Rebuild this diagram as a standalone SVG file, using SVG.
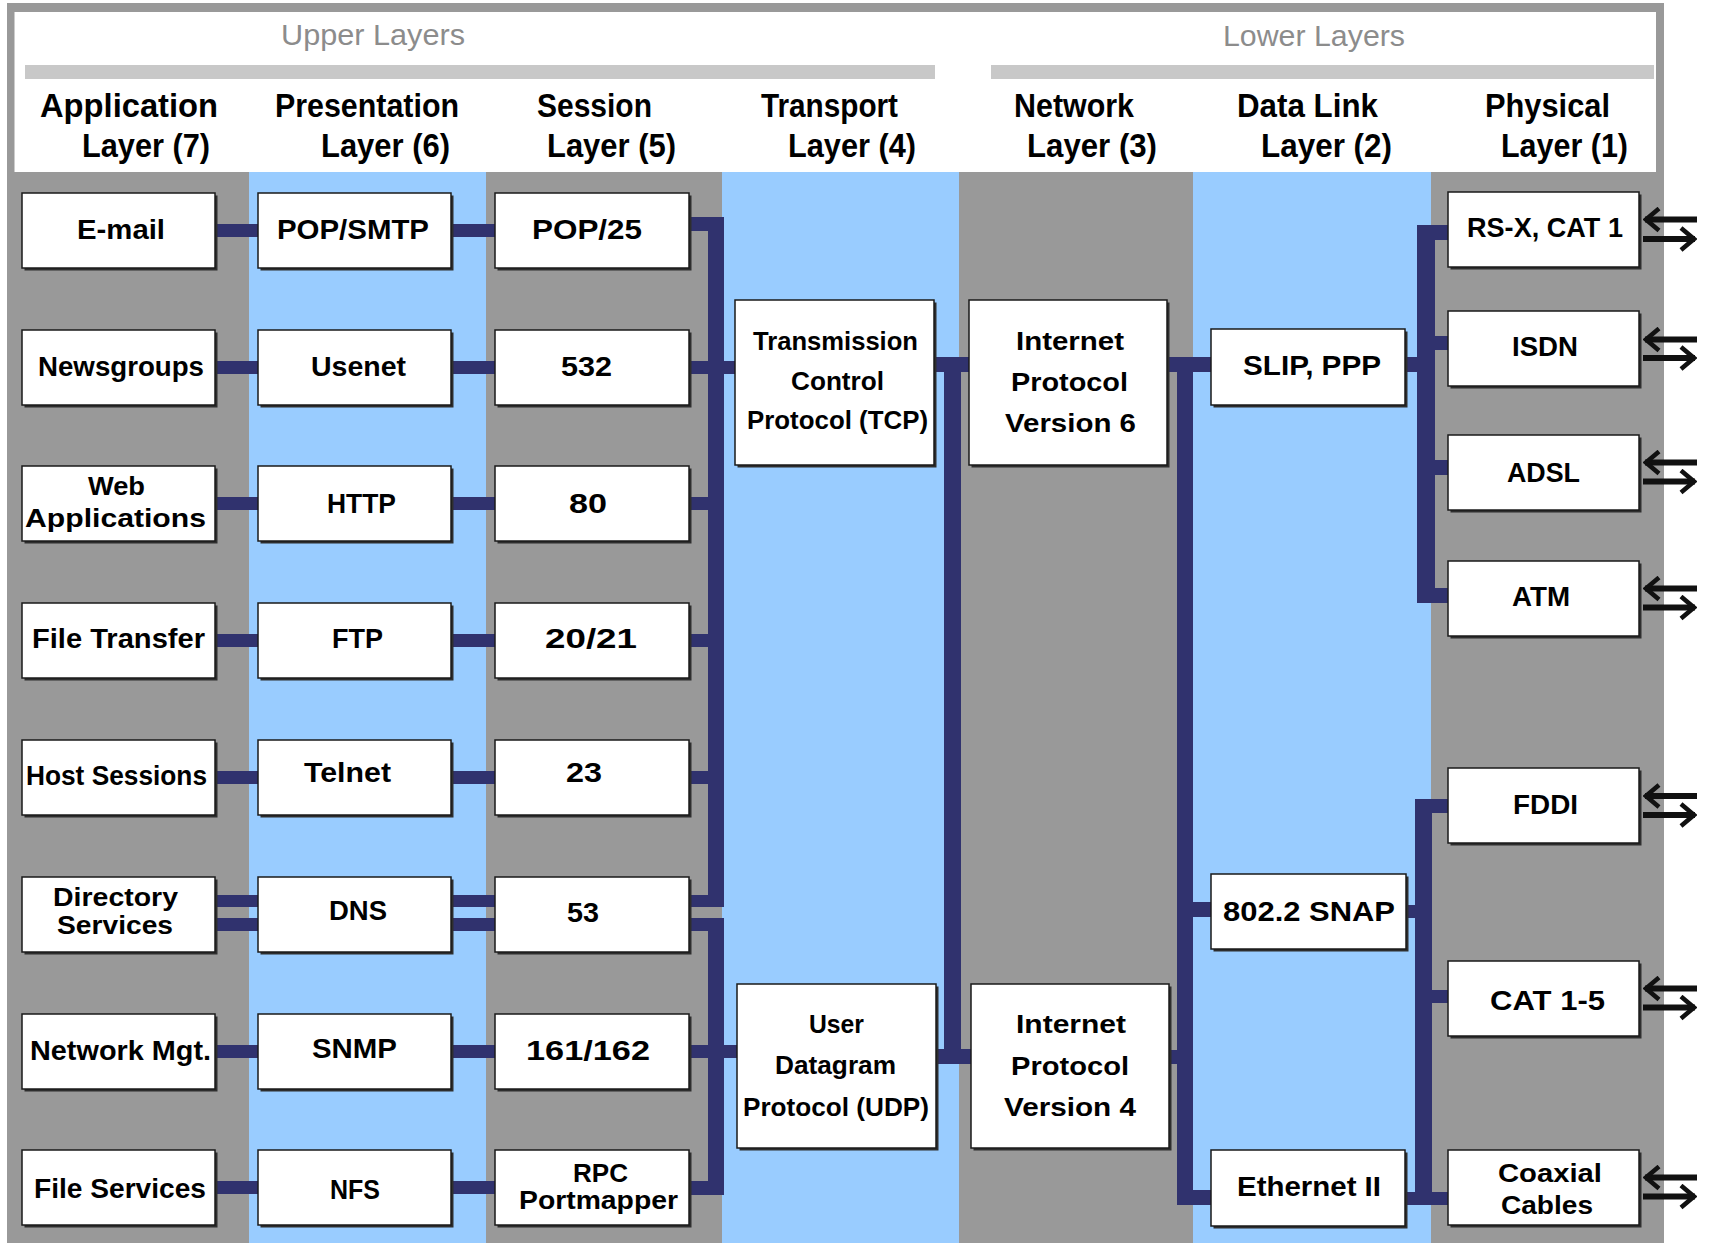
<svg xmlns="http://www.w3.org/2000/svg" width="1709" height="1243" viewBox="0 0 1709 1243">
<style>
.bx{fill:#fff;stroke:#1a1a1a;stroke-width:1.5}
.sh{fill:#2e2e2e}
.t{font-family:"Liberation Sans",Arial,sans-serif;font-weight:bold;fill:#000}
.s28{font-size:28px}
.s26{font-size:26px}
.s39{font-size:34px}
.lt{font-family:"Liberation Sans",Arial,sans-serif;font-size:30px;fill:#8c8c8c}
.c{fill:#30326e}
.ar{stroke:#111;stroke-width:6;fill:none;marker-end:url(#ah)}
</style>
<defs>
<marker id="ah" viewBox="0 0 20 26" markerWidth="20" markerHeight="26" refX="18" refY="13" orient="auto" markerUnits="userSpaceOnUse">
<path d="M4,2 L17,13 L4,24" fill="none" stroke="#111" stroke-width="4.5"/>
</marker>
</defs>
<rect width="1709" height="1243" fill="#fff"/>
<g id="background">
<rect x="7" y="3" width="1657" height="1240" fill="#999"/>
<rect x="14.5" y="12" width="1641.5" height="160" fill="#fff"/>
<rect x="249" y="172" width="237" height="1071" fill="#99ccff"/>
<rect x="722" y="172" width="237" height="1071" fill="#99ccff"/>
<rect x="1193" y="172" width="238" height="1071" fill="#99ccff"/>
<rect x="25" y="65" width="910" height="14" fill="#c8c8c8"/>
<rect x="991" y="65" width="663" height="14" fill="#c8c8c8"/>
</g>
<g id="headers">
<text class="lt" x="281" y="45" textLength="184" lengthAdjust="spacingAndGlyphs">Upper Layers</text>
<text class="lt" x="1223" y="46" textLength="182" lengthAdjust="spacingAndGlyphs">Lower Layers</text>
<text class="t s39"><tspan x="40" y="117" textLength="178" lengthAdjust="spacingAndGlyphs">Application</tspan><tspan x="82" y="157" textLength="128" lengthAdjust="spacingAndGlyphs">Layer (7)</tspan></text>
<text class="t s39"><tspan x="275" y="117" textLength="184" lengthAdjust="spacingAndGlyphs">Presentation</tspan><tspan x="321" y="157" textLength="129" lengthAdjust="spacingAndGlyphs">Layer (6)</tspan></text>
<text class="t s39"><tspan x="537" y="117" textLength="115" lengthAdjust="spacingAndGlyphs">Session</tspan><tspan x="547" y="157" textLength="129" lengthAdjust="spacingAndGlyphs">Layer (5)</tspan></text>
<text class="t s39"><tspan x="761" y="117" textLength="137" lengthAdjust="spacingAndGlyphs">Transport</tspan><tspan x="788" y="157" textLength="128" lengthAdjust="spacingAndGlyphs">Layer (4)</tspan></text>
<text class="t s39"><tspan x="1014" y="117" textLength="120" lengthAdjust="spacingAndGlyphs">Network</tspan><tspan x="1027" y="157" textLength="130" lengthAdjust="spacingAndGlyphs">Layer (3)</tspan></text>
<text class="t s39"><tspan x="1237" y="117" textLength="141" lengthAdjust="spacingAndGlyphs">Data Link</tspan><tspan x="1261" y="157" textLength="131" lengthAdjust="spacingAndGlyphs">Layer (2)</tspan></text>
<text class="t s39"><tspan x="1485" y="117" textLength="125" lengthAdjust="spacingAndGlyphs">Physical</tspan><tspan x="1501" y="157" textLength="127" lengthAdjust="spacingAndGlyphs">Layer (1)</tspan></text>
</g>
<g id="connectors">
<rect class="c" x="214" y="224" width="45" height="13"/>
<rect class="c" x="214" y="361" width="45" height="13"/>
<rect class="c" x="214" y="497" width="45" height="13"/>
<rect class="c" x="214" y="634" width="45" height="13"/>
<rect class="c" x="214" y="771" width="45" height="13"/>
<rect class="c" x="214" y="895" width="45" height="12"/>
<rect class="c" x="214" y="918" width="45" height="13"/>
<rect class="c" x="214" y="1045" width="45" height="13"/>
<rect class="c" x="214" y="1181" width="45" height="13"/>
<rect class="c" x="450" y="224" width="46" height="13"/>
<rect class="c" x="450" y="361" width="46" height="13"/>
<rect class="c" x="450" y="497" width="46" height="13"/>
<rect class="c" x="450" y="634" width="46" height="13"/>
<rect class="c" x="450" y="771" width="46" height="13"/>
<rect class="c" x="450" y="895" width="46" height="12"/>
<rect class="c" x="450" y="918" width="46" height="13"/>
<rect class="c" x="450" y="1045" width="46" height="13"/>
<rect class="c" x="450" y="1181" width="46" height="13"/>
<rect class="c" x="688" y="217" width="36" height="14"/>
<rect class="c" x="688" y="361" width="48" height="13"/>
<rect class="c" x="688" y="497" width="36" height="13"/>
<rect class="c" x="688" y="634" width="36" height="13"/>
<rect class="c" x="688" y="771" width="36" height="13"/>
<rect class="c" x="688" y="895" width="36" height="12"/>
<rect class="c" x="708" y="217" width="16" height="690"/>
<rect class="c" x="688" y="918" width="36" height="13"/>
<rect class="c" x="688" y="1045" width="50" height="13"/>
<rect class="c" x="688" y="1181" width="36" height="14"/>
<rect class="c" x="708" y="918" width="16" height="277"/>
<rect class="c" x="933" y="357" width="37" height="15"/>
<rect class="c" x="935" y="1049" width="37" height="15"/>
<rect class="c" x="944" y="357" width="17" height="707"/>
<rect class="c" x="1166" y="357" width="46" height="15"/>
<rect class="c" x="1168" y="1050" width="12" height="14"/>
<rect class="c" x="1192" y="902" width="20" height="15"/>
<rect class="c" x="1192" y="1190" width="20" height="15"/>
<rect class="c" x="1177" y="357" width="16" height="848"/>
<rect class="c" x="1404" y="357" width="15" height="15"/>
<rect class="c" x="1417" y="225" width="18" height="378"/>
<rect class="c" x="1434" y="225" width="15" height="15"/>
<rect class="c" x="1434" y="336" width="15" height="14"/>
<rect class="c" x="1434" y="460" width="15" height="15"/>
<rect class="c" x="1434" y="588" width="15" height="15"/>
<rect class="c" x="1405" y="905" width="11" height="13"/>
<rect class="c" x="1404" y="1192" width="45" height="13"/>
<rect class="c" x="1415" y="799" width="17" height="406"/>
<rect class="c" x="1431" y="799" width="18" height="14"/>
<rect class="c" x="1431" y="990" width="18" height="13"/>
<path class="ar" d="M1697,219.5 H1645"/><path class="ar" d="M1643,239 H1695"/>
<path class="ar" d="M1697,339.5 H1645"/><path class="ar" d="M1643,358 H1695"/>
<path class="ar" d="M1697,462.5 H1645"/><path class="ar" d="M1643,481.5 H1695"/>
<path class="ar" d="M1697,588.5 H1645"/><path class="ar" d="M1643,607.5 H1695"/>
<path class="ar" d="M1697,796 H1645"/><path class="ar" d="M1643,815 H1695"/>
<path class="ar" d="M1697,988.5 H1645"/><path class="ar" d="M1643,1007.5 H1695"/>
<path class="ar" d="M1697,1177.5 H1645"/><path class="ar" d="M1643,1196.5 H1695"/>
</g>
<g id="email"><rect class="sh" x="24.5" y="195.5" width="193" height="75"/><rect class="bx" x="22" y="193" width="193" height="75"/><text class="t s28" x="77" y="239" textLength="88" lengthAdjust="spacingAndGlyphs">E-mail</text></g>
<g id="newsgroups"><rect class="sh" x="24.5" y="332.5" width="193" height="75"/><rect class="bx" x="22" y="330" width="193" height="75"/><text class="t s28" x="38" y="376" textLength="166" lengthAdjust="spacingAndGlyphs">Newsgroups</text></g>
<g id="webapps"><rect class="sh" x="24.5" y="468.5" width="193" height="75"/><rect class="bx" x="22" y="466" width="193" height="75"/><text class="t s26"><tspan x="88" y="495" textLength="57" lengthAdjust="spacingAndGlyphs">Web</tspan><tspan x="25" y="527" textLength="181" lengthAdjust="spacingAndGlyphs">Applications</tspan></text></g>
<g id="filetransfer"><rect class="sh" x="24.5" y="605.5" width="193" height="75"/><rect class="bx" x="22" y="603" width="193" height="75"/><text class="t s28" x="32" y="648" textLength="173" lengthAdjust="spacingAndGlyphs">File Transfer</text></g>
<g id="hostsessions"><rect class="sh" x="24.5" y="742.5" width="193" height="75"/><rect class="bx" x="22" y="740" width="193" height="75"/><text class="t s28" x="26" y="785" textLength="181" lengthAdjust="spacingAndGlyphs">Host Sessions</text></g>
<g id="directory"><rect class="sh" x="24.5" y="879.5" width="193" height="75"/><rect class="bx" x="22" y="877" width="193" height="75"/><text class="t s26"><tspan x="53" y="906" textLength="125" lengthAdjust="spacingAndGlyphs">Directory</tspan><tspan x="57" y="934" textLength="116" lengthAdjust="spacingAndGlyphs">Services</tspan></text></g>
<g id="netmgt"><rect class="sh" x="24.5" y="1016.5" width="193" height="75"/><rect class="bx" x="22" y="1014" width="193" height="75"/><text class="t s28" x="30" y="1060" textLength="181" lengthAdjust="spacingAndGlyphs">Network Mgt.</text></g>
<g id="fileservices"><rect class="sh" x="24.5" y="1152.5" width="193" height="75"/><rect class="bx" x="22" y="1150" width="193" height="75"/><text class="t s28" x="34" y="1198" textLength="172" lengthAdjust="spacingAndGlyphs">File Services</text></g>
<g id="popsmtp"><rect class="sh" x="260.5" y="195.5" width="193" height="75"/><rect class="bx" x="258" y="193" width="193" height="75"/><text class="t s28" x="277" y="239" textLength="152" lengthAdjust="spacingAndGlyphs">POP/SMTP</text></g>
<g id="usenet"><rect class="sh" x="260.5" y="332.5" width="193" height="75"/><rect class="bx" x="258" y="330" width="193" height="75"/><text class="t s28" x="311" y="376" textLength="95" lengthAdjust="spacingAndGlyphs">Usenet</text></g>
<g id="http"><rect class="sh" x="260.5" y="468.5" width="193" height="75"/><rect class="bx" x="258" y="466" width="193" height="75"/><text class="t s28" x="327" y="513" textLength="69" lengthAdjust="spacingAndGlyphs">HTTP</text></g>
<g id="ftp"><rect class="sh" x="260.5" y="605.5" width="193" height="75"/><rect class="bx" x="258" y="603" width="193" height="75"/><text class="t s28" x="332" y="648" textLength="51" lengthAdjust="spacingAndGlyphs">FTP</text></g>
<g id="telnet"><rect class="sh" x="260.5" y="742.5" width="193" height="75"/><rect class="bx" x="258" y="740" width="193" height="75"/><text class="t s28" x="304" y="782" textLength="87" lengthAdjust="spacingAndGlyphs">Telnet</text></g>
<g id="dns"><rect class="sh" x="260.5" y="879.5" width="193" height="75"/><rect class="bx" x="258" y="877" width="193" height="75"/><text class="t s28" x="329" y="920" textLength="58" lengthAdjust="spacingAndGlyphs">DNS</text></g>
<g id="snmp"><rect class="sh" x="260.5" y="1016.5" width="193" height="75"/><rect class="bx" x="258" y="1014" width="193" height="75"/><text class="t s28" x="312" y="1058" textLength="85" lengthAdjust="spacingAndGlyphs">SNMP</text></g>
<g id="nfs"><rect class="sh" x="260.5" y="1152.5" width="193" height="75"/><rect class="bx" x="258" y="1150" width="193" height="75"/><text class="t s28" x="330" y="1199" textLength="50" lengthAdjust="spacingAndGlyphs">NFS</text></g>
<g id="pop25"><rect class="sh" x="497.5" y="195.5" width="194" height="75"/><rect class="bx" x="495" y="193" width="194" height="75"/><text class="t s28" x="532" y="239" textLength="110" lengthAdjust="spacingAndGlyphs">POP/25</text></g>
<g id="p532"><rect class="sh" x="497.5" y="332.5" width="194" height="75"/><rect class="bx" x="495" y="330" width="194" height="75"/><text class="t s28" x="561" y="376" textLength="51" lengthAdjust="spacingAndGlyphs">532</text></g>
<g id="p80"><rect class="sh" x="497.5" y="468.5" width="194" height="75"/><rect class="bx" x="495" y="466" width="194" height="75"/><text class="t s28" x="569" y="513" textLength="38" lengthAdjust="spacingAndGlyphs">80</text></g>
<g id="p2021"><rect class="sh" x="497.5" y="605.5" width="194" height="75"/><rect class="bx" x="495" y="603" width="194" height="75"/><text class="t s28" x="545" y="648" textLength="92" lengthAdjust="spacingAndGlyphs">20/21</text></g>
<g id="p23"><rect class="sh" x="497.5" y="742.5" width="194" height="75"/><rect class="bx" x="495" y="740" width="194" height="75"/><text class="t s28" x="566" y="782" textLength="36" lengthAdjust="spacingAndGlyphs">23</text></g>
<g id="p53"><rect class="sh" x="497.5" y="879.5" width="194" height="75"/><rect class="bx" x="495" y="877" width="194" height="75"/><text class="t s28" x="567" y="922" textLength="32" lengthAdjust="spacingAndGlyphs">53</text></g>
<g id="p161"><rect class="sh" x="497.5" y="1016.5" width="194" height="75"/><rect class="bx" x="495" y="1014" width="194" height="75"/><text class="t s28" x="526" y="1060" textLength="124" lengthAdjust="spacingAndGlyphs">161/162</text></g>
<g id="rpc"><rect class="sh" x="497.5" y="1152.5" width="194" height="75"/><rect class="bx" x="495" y="1150" width="194" height="75"/><text class="t s26"><tspan x="573" y="1182" textLength="55" lengthAdjust="spacingAndGlyphs">RPC</tspan><tspan x="519" y="1209" textLength="159" lengthAdjust="spacingAndGlyphs">Portmapper</tspan></text></g>
<g id="tcp"><rect class="sh" x="737.5" y="302.5" width="199" height="165"/><rect class="bx" x="735" y="300" width="199" height="165"/><text class="t s26"><tspan x="753" y="350" textLength="165" lengthAdjust="spacingAndGlyphs">Transmission</tspan><tspan x="791" y="390" textLength="93" lengthAdjust="spacingAndGlyphs">Control</tspan><tspan x="747" y="429" textLength="181" lengthAdjust="spacingAndGlyphs">Protocol (TCP)</tspan></text></g>
<g id="udp"><rect class="sh" x="739.5" y="986.5" width="199" height="164"/><rect class="bx" x="737" y="984" width="199" height="164"/><text class="t s26"><tspan x="809" y="1033" textLength="55" lengthAdjust="spacingAndGlyphs">User</tspan><tspan x="775" y="1074" textLength="121" lengthAdjust="spacingAndGlyphs">Datagram</tspan><tspan x="743" y="1116" textLength="186" lengthAdjust="spacingAndGlyphs">Protocol (UDP)</tspan></text></g>
<g id="ipv6"><rect class="sh" x="971.5" y="302.5" width="198" height="165"/><rect class="bx" x="969" y="300" width="198" height="165"/><text class="t s26"><tspan x="1016" y="350" textLength="108" lengthAdjust="spacingAndGlyphs">Internet</tspan><tspan x="1011" y="391" textLength="117" lengthAdjust="spacingAndGlyphs">Protocol</tspan><tspan x="1005" y="432" textLength="131" lengthAdjust="spacingAndGlyphs">Version 6</tspan></text></g>
<g id="ipv4"><rect class="sh" x="973.5" y="986.5" width="198" height="164"/><rect class="bx" x="971" y="984" width="198" height="164"/><text class="t s26"><tspan x="1016" y="1033" textLength="110" lengthAdjust="spacingAndGlyphs">Internet</tspan><tspan x="1011" y="1075" textLength="118" lengthAdjust="spacingAndGlyphs">Protocol</tspan><tspan x="1004" y="1116" textLength="132" lengthAdjust="spacingAndGlyphs">Version 4</tspan></text></g>
<g id="slip"><rect class="sh" x="1213.5" y="331.5" width="194" height="76"/><rect class="bx" x="1211" y="329" width="194" height="76"/><text class="t s28" x="1243" y="375" textLength="138" lengthAdjust="spacingAndGlyphs">SLIP, PPP</text></g>
<g id="snap"><rect class="sh" x="1213.5" y="876.5" width="195" height="75"/><rect class="bx" x="1211" y="874" width="195" height="75"/><text class="t s28" x="1223" y="921" textLength="172" lengthAdjust="spacingAndGlyphs">802.2 SNAP</text></g>
<g id="ethernet"><rect class="sh" x="1213.5" y="1152.5" width="194" height="76"/><rect class="bx" x="1211" y="1150" width="194" height="76"/><text class="t s28" x="1237" y="1196" textLength="144" lengthAdjust="spacingAndGlyphs">Ethernet II</text></g>
<g id="rsx"><rect class="sh" x="1450.5" y="194.5" width="191" height="75"/><rect class="bx" x="1448" y="192" width="191" height="75"/><text class="t s28" x="1467" y="237" textLength="156" lengthAdjust="spacingAndGlyphs">RS-X, CAT 1</text></g>
<g id="isdn"><rect class="sh" x="1450.5" y="313.5" width="191" height="75"/><rect class="bx" x="1448" y="311" width="191" height="75"/><text class="t s28" x="1512" y="356" textLength="66" lengthAdjust="spacingAndGlyphs">ISDN</text></g>
<g id="adsl"><rect class="sh" x="1450.5" y="437.5" width="191" height="75"/><rect class="bx" x="1448" y="435" width="191" height="75"/><text class="t s28" x="1507" y="482" textLength="73" lengthAdjust="spacingAndGlyphs">ADSL</text></g>
<g id="atm"><rect class="sh" x="1450.5" y="563.5" width="191" height="75"/><rect class="bx" x="1448" y="561" width="191" height="75"/><text class="t s28" x="1512" y="606" textLength="58" lengthAdjust="spacingAndGlyphs">ATM</text></g>
<g id="fddi"><rect class="sh" x="1450.5" y="770.5" width="191" height="75"/><rect class="bx" x="1448" y="768" width="191" height="75"/><text class="t s28" x="1513" y="814" textLength="65" lengthAdjust="spacingAndGlyphs">FDDI</text></g>
<g id="cat15"><rect class="sh" x="1450.5" y="963.5" width="191" height="75"/><rect class="bx" x="1448" y="961" width="191" height="75"/><text class="t s28" x="1490" y="1010" textLength="115" lengthAdjust="spacingAndGlyphs">CAT 1-5</text></g>
<g id="coax"><rect class="sh" x="1450.5" y="1152.5" width="191" height="75"/><rect class="bx" x="1448" y="1150" width="191" height="75"/><text class="t s26"><tspan x="1498" y="1182" textLength="104" lengthAdjust="spacingAndGlyphs">Coaxial</tspan><tspan x="1501" y="1214" textLength="92" lengthAdjust="spacingAndGlyphs">Cables</tspan></text></g>
</svg>
